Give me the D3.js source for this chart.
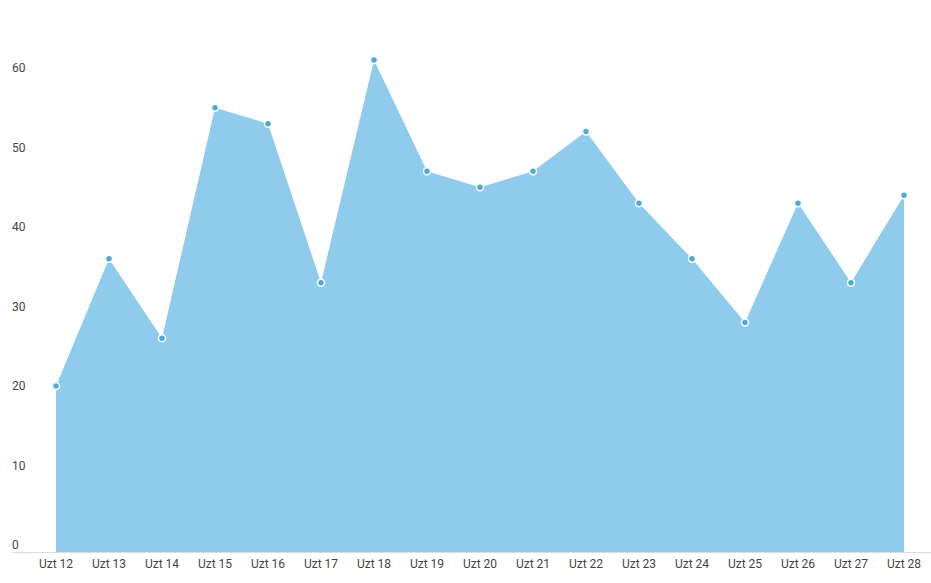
<!DOCTYPE html>
<html><head><meta charset="utf-8">
<script src="https://cdn.jsdelivr.net/npm/d3@7"></script>
<style>body{margin:0;background:#fff}svg{display:block}text{font-family:Roboto,sans-serif}</style>
</head><body><svg id="c" width="931" height="583"></svg>
<script>
const categories = ["Uzt 12","Uzt 13","Uzt 14","Uzt 15","Uzt 16","Uzt 17","Uzt 18","Uzt 19","Uzt 20","Uzt 21","Uzt 22","Uzt 23","Uzt 24","Uzt 25","Uzt 26","Uzt 27","Uzt 28"];
const values = [20,36,26,55,53,33,61,47,45,47,52,43,36,28,43,33,44];
const yTicks = [0,10,20,30,40,50,60];

const svg = d3.select("#c");
const x = d3.scalePoint().domain(categories).range([56,904]);
const y = d3.scaleLinear().domain([-0.88,70]).range([552,552-70.88*7.95]);

svg.append("line").attr("x1",12).attr("x2",931).attr("y1",552.5).attr("y2",552.5)
  .attr("stroke","#dcdcdc").attr("stroke-width",1);

const data = categories.map((c,i)=>({c,v:values[i]}));
svg.append("path").datum(data)
  .attr("d", d3.area().x(d=>x(d.c)).y0(y(-0.88)).y1(d=>y(d.v)))
  .attr("fill","#8fcbed");

svg.selectAll("circle").data(data).join("circle")
  .attr("cx",d=>x(d.c)).attr("cy",d=>y(d.v)).attr("r",3.5)
  .attr("fill","#4ea9dc").attr("stroke","#fff").attr("stroke-width",1.5);

svg.selectAll("text.yl").data(yTicks).join("text").attr("class","yl")
  .attr("x",12).attr("y",d=>y(d)).attr("dy","0.35em")
  .attr("font-size",12).attr("fill","#444").text(d=>d);

svg.selectAll("text.xl").data(categories).join("text").attr("class","xl")
  .attr("x",d=>x(d)).attr("y",564).attr("dy","0.35em").attr("text-anchor","middle")
  .attr("font-size",12).attr("fill","#444").text(d=>d);
</script></body></html>
